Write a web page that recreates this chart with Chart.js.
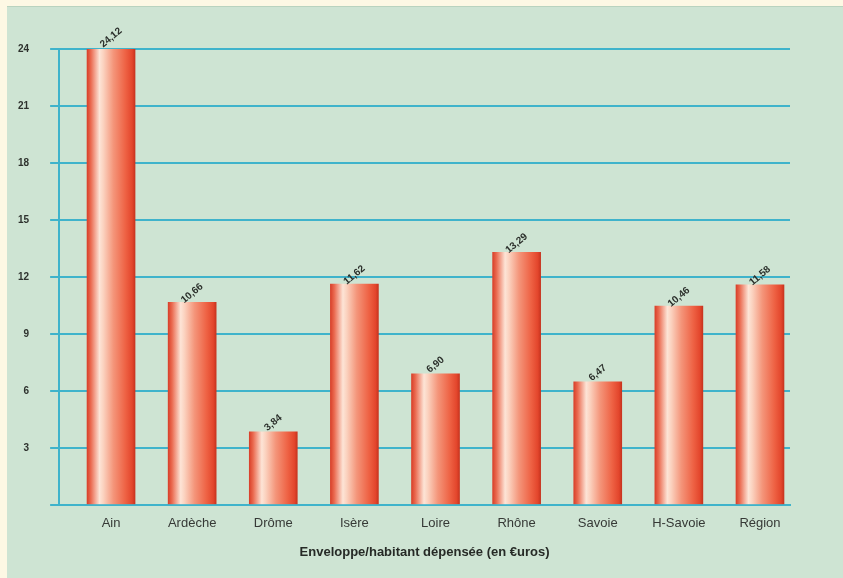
<!DOCTYPE html>
<html lang="fr">
<head>
<meta charset="utf-8">
<title>Enveloppe/habitant dépensée</title>
<script src="https://cdn.jsdelivr.net/npm/chart.js@4.4.1/dist/chart.umd.min.js"></script>
<style>
  html, body { margin: 0; padding: 0; background: #fdf8e4; }
  #wrap { width: 843px; height: 578px; position: relative; }
</style>
</head>
<body>
<div id="wrap"><canvas id="c" width="843" height="578"></canvas></div>
<script>
// Départements et dépense par habitant (en euros)
const departements = ['Ain', 'Ardèche', 'Drôme', 'Isère', 'Loire', 'Rhône', 'Savoie', 'H-Savoie', 'Région'];
const depenseParHabitant = [24.12, 10.66, 3.84, 11.62, 6.90, 13.29, 6.47, 10.46, 11.58];
const graduationsY = [0, 3, 6, 9, 12, 15, 18, 21, 24];
const titreAxe = 'Enveloppe/habitant dépensée (en €uros)';

const FONT = '"Liberation Sans", Arial, Helvetica, sans-serif';
const BAR_W = 48;

// Dégradé horizontal "cylindre" pour chaque barre
function barGradient(ctx) {
  const chart = ctx.chart;
  const xs = chart.scales.x;
  if (!xs || ctx.dataIndex === undefined) return '#ec5a3c';
  const cx = xs.getPixelForValue(ctx.dataIndex);
  if (!isFinite(cx)) return '#ec5a3c';
  const g = chart.ctx.createLinearGradient(cx - BAR_W / 2, 0, cx + BAR_W / 2, 0);
  g.addColorStop(0.00, '#d9402a');
  g.addColorStop(0.08, '#ea6a50');
  g.addColorStop(0.26, '#fde4d6');
  g.addColorStop(0.34, '#fbd2bf');
  g.addColorStop(0.55, '#f4957a');
  g.addColorStop(0.80, '#ee6244');
  g.addColorStop(0.94, '#e3462c');
  g.addColorStop(1.00, '#c8341f');
  return g;
}

// Fond crème et panneau vert clair
const fondPlugin = {
  id: 'fond',
  beforeDraw(chart) {
    const c = chart.ctx;
    c.save();
    c.fillStyle = '#fdf8e4';
    c.fillRect(0, 0, chart.width, chart.height);
    c.fillStyle = '#cee4d3';
    c.fillRect(7, 6, chart.width - 7, chart.height - 6);
    c.fillStyle = '#b9d3bf';
    c.fillRect(7, 6, chart.width - 7, 1);
    c.restore();
  }
};

// Valeurs inclinées au-dessus des barres
const valeursPlugin = {
  id: 'valeurs',
  afterDatasetsDraw(chart) {
    const c = chart.ctx;
    const meta = chart.getDatasetMeta(0);
    c.save();
    c.font = 'bold 10px ' + FONT;
    c.fillStyle = '#2b2f2b';
    c.textAlign = 'center';
    c.textBaseline = 'middle';
    meta.data.forEach((bar, i) => {
      const txt = depenseParHabitant[i].toFixed(2).replace('.', ',');
      c.save();
      c.translate(bar.x, bar.y - 9);
      c.rotate(-40 * Math.PI / 180);
      c.fillText(txt, 0, 0);
      c.restore();
    });
    c.restore();
  }
};

new Chart(document.getElementById('c'), {
  type: 'bar',
  data: {
    datasets: [{
      data: depenseParHabitant.map((v, i) => ({ x: i, y: v })),
      backgroundColor: barGradient,
      borderWidth: 0,
      barThickness: BAR_W
    }]
  },
  options: {
    responsive: false,
    animation: false,
    events: [],
    layout: { padding: { left: -3, right: 53, top: 49, bottom: 18 } },
    plugins: {
      legend: { display: false },
      tooltip: { enabled: false }
    },
    scales: {
      x: {
        type: 'linear',
        offset: false,
        min: -0.64,
        max: 8.37,
        afterBuildTicks(scale) {
          scale.ticks = departements.map((_, i) => ({ value: i }));
        },
        grid: { display: false, drawTicks: false, offset: false },
        border: { display: true, color: '#3fb3cb', width: 2 },
        ticks: {
          padding: 11,
          autoSkip: false,
          maxRotation: 0,
          color: '#363936',
          font: { family: FONT, size: 13 },
          callback: (v) => departements[v] ?? ''
        },
        title: {
          display: true,
          text: titreAxe,
          color: '#262a26',
          padding: { top: 2, bottom: 0 },
          font: { family: FONT, size: 13, weight: 'bold' }
        }
      },
      y: {
        min: 0,
        max: 24,
        afterBuildTicks(scale) {
          scale.ticks = graduationsY.map(v => ({ value: v }));
        },
        grid: {
          color: '#3fb3cb',
          lineWidth: 2,
          tickLength: 9,
          drawTicks: true
        },
        border: { display: true, color: '#3fb3cb', width: 2 },
        ticks: {
          padding: 21,
          color: '#2e322e',
          font: { family: FONT, size: 10, weight: 'bold' },
          callback: (v) => (v === 0 ? '' : String(v))
        }
      }
    }
  },
  plugins: [fondPlugin, valeursPlugin]
});
</script>
</body>
</html>
